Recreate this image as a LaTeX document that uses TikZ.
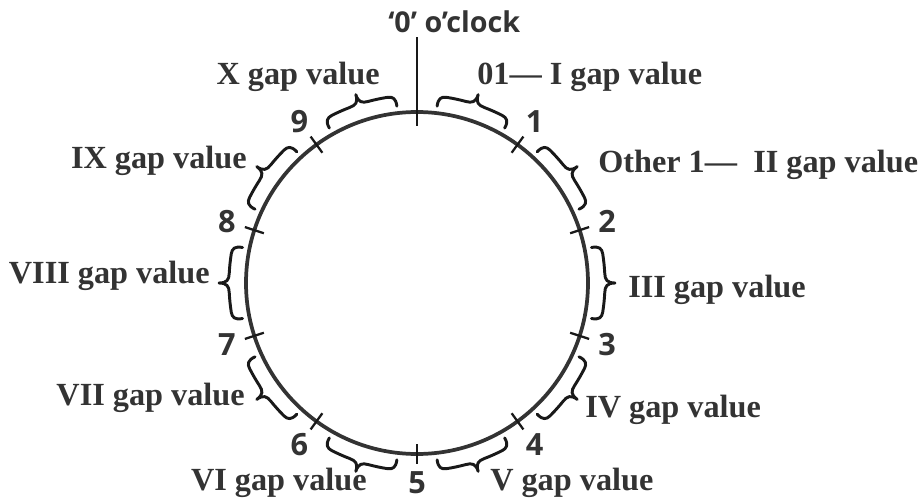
\documentclass[tikz,border=0pt]{standalone}
\usepackage{fontspec}
\setmainfont{Liberation Serif}
\newfontfamily\numfont{Open Sans}
\usetikzlibrary{positioning}
\definecolor{inkgray}{HTML}{333333}
\definecolor{txtgray}{HTML}{333333}
% curly brace outside the ring, centred on angle #1
\newcommand{\gapbrace}[1]{%
  \draw[gapbr] ({#1+11.5}:178) .. controls ({#1+11.5}:186) and ({#1+10.5}:188) .. ({#1+9}:188)
    arc[start angle=#1+9, end angle=#1+3, radius=188]
    .. controls ({#1+1}:188) and (#1:190) .. (#1:198)
    .. controls (#1:190) and ({#1-1}:188) .. ({#1-3}:188)
    arc[start angle=#1-3, end angle=#1-9, radius=188]
    .. controls ({#1-10.5}:188) and ({#1-11.5}:186) .. ({#1-11.5}:178);}

\begin{document}
\begin{tikzpicture}[x=0.75pt, y=0.75pt,
        ring/.style={draw=inkgray, line width=2.8pt},
        tickln/.style={draw=black!90, line width=1.7pt},
        gapbr/.style={draw=black!90, line width=2.2pt, line cap=round, line join=round},
        numlbl/.style={font=\numfont\bfseries\fontsize{23}{27}\selectfont, text=txtgray, inner sep=0pt},
        zerolbl/.style={font=\numfont\bfseries\fontsize{21.5}{25}\selectfont, text=txtgray, inner sep=0pt},
        gaplbl/.style={font=\bfseries\fontsize{24.2}{29}\selectfont, text=txtgray, inner sep=0pt}
    ]
    \useasboundingbox (-417,-217) rectangle (506,283);
    \draw[ring] (0,0) circle[radius=171];

    % zero mark
    \node[zerolbl, anchor=base west] (zero) at (-29,250) {‘0’ o’clock};
    \coordinate (zin) at (90:157);
    \coordinate (zout) at (90:246);
    \draw[tickln, line width=2pt] (zin) -- (zout);

    % hour marks
    \foreach \k in {1,...,9} {
        \draw[tickln] ({90-36*\k}:161) -- ({90-36*\k}:181);
        \node[numlbl] (n\k) at ({90-36*\k}:200) {\k};
    }

    % gap braces
    \foreach \a in {72,36,...,-252} {
        \gapbrace{\a}
    }

    % gap labels
    \node[gaplbl, anchor=base west] (gI)    at (60,198)    {01— I gap value};
    \node[gaplbl, anchor=base west] (gII)   at (181,111)   {Other 1—\ \ II gap value};
    \node[gaplbl, anchor=base west] (gIII)  at (211,-14)   {III gap value};
    \node[gaplbl, anchor=base west] (gIV)   at (168,-134)  {IV gap value};
    \node[gaplbl, anchor=base west] (gV)    at (73,-207)   {V gap value};
    \node[gaplbl, anchor=base east] (gVI)   at (-50,-207)  {VI gap value};
    \node[gaplbl, anchor=base east] (gVII)  at (-172,-122) {VII gap value};
    \node[gaplbl, anchor=base east] (gVIII) at (-207,0)    {VIII gap value};
    \node[gaplbl, anchor=base east] (gIX)   at (-170,115)  {IX gap value};
    \node[gaplbl, anchor=base east] (gX)    at (-37,198)   {X gap value};
\end{tikzpicture}
\end{document}
